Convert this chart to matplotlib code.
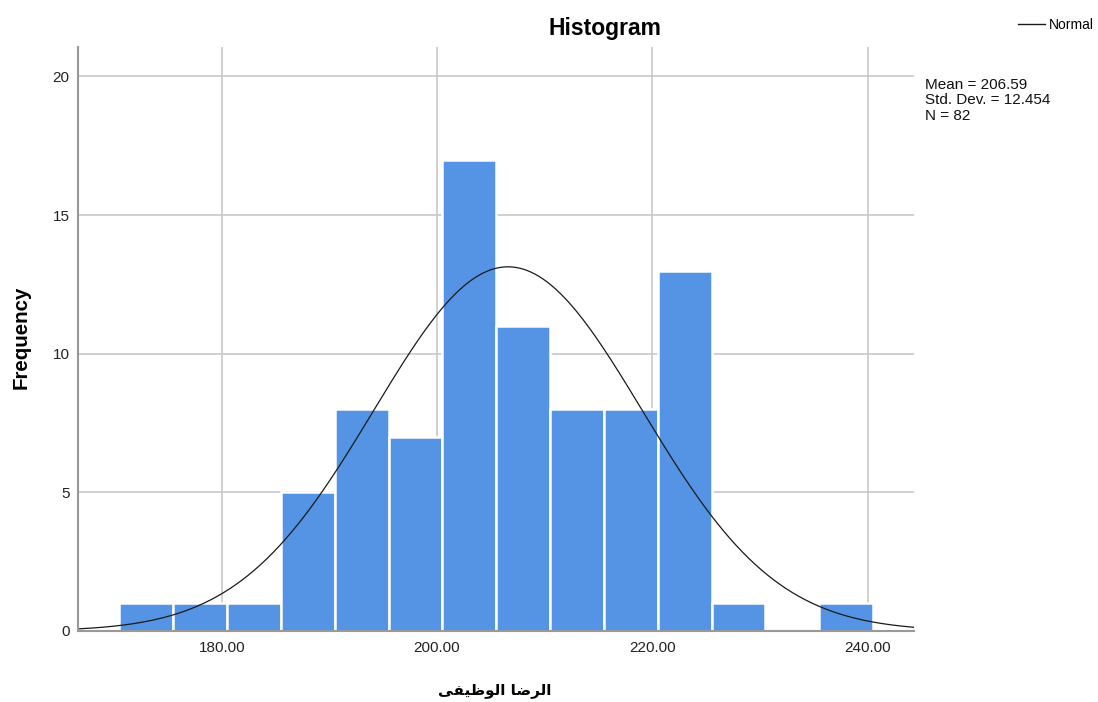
import numpy as np
import matplotlib
matplotlib.use("Agg")
import matplotlib.pyplot as plt
from matplotlib.lines import Line2D

# ---- data ----
bin_edges = [170.5, 175.5, 180.5, 185.5, 190.5, 195.5, 200.5, 205.5,
             210.5, 215.5, 220.5, 225.5, 230.5, 235.5, 240.5]
counts = [1, 1, 1, 5, 8, 7, 17, 11, 8, 8, 13, 1, 0, 1]
mean_val = 206.59
std_val = 12.454
n_val = 82
x_ticks = [180, 200, 220, 240]
x_tick_labels = ["180.00", "200.00", "220.00", "240.00"]
y_ticks = [0, 5, 10, 15, 20]
title_text = "Histogram"
y_label = "Frequency"
x_label = "الرضا الوظيفى"
legend_label = "Normal"

# ---- minimal Arabic shaping (presentation forms + visual order) ----
_forms = {  # isolated, final, initial, medial
    'ا': ('\uFE8D', '\uFE8E', None, None),
    'ل': ('\uFEDD', '\uFEDE', '\uFEDF', '\uFEE0'),
    'ر': ('\uFEAD', '\uFEAE', None, None),
    'ض': ('\uFEBD', '\uFEBE', '\uFEBF', '\uFEC0'),
    'و': ('\uFEED', '\uFEEE', None, None),
    'ظ': ('\uFEC5', '\uFEC6', '\uFEC7', '\uFEC8'),
    'ي': ('\uFEF1', '\uFEF2', '\uFEF3', '\uFEF4'),
    'ف': ('\uFED1', '\uFED2', '\uFED3', '\uFED4'),
    'ى': ('\uFEEF', '\uFEF0', None, None),
}


def shape_arabic(s):
    out = []
    for i, ch in enumerate(s):
        if ch not in _forms:
            out.append(ch)
            continue
        prev = s[i - 1] if i > 0 else None
        nxt = s[i + 1] if i + 1 < len(s) else None
        jp = prev in _forms and _forms[prev][2] is not None
        jn = _forms[ch][2] is not None and nxt in _forms
        iso, fin, ini, med = _forms[ch]
        if jp and jn:
            out.append(med)
        elif jp:
            out.append(fin)
        elif jn:
            out.append(ini)
        else:
            out.append(iso)
    return ''.join(out)[::-1]


W, H = 1098, 702
fig = plt.figure(figsize=(W / 100, H / 100), dpi=100)
ax = fig.add_axes([78 / W, 1 - 631 / H, (914 - 78) / W, (631 - 47) / H])

bar_color = '#5594e4'
lefts = bin_edges[:-1]
widths = np.diff(bin_edges)
ax.bar(lefts, counts, width=widths, align='edge', color=bar_color,
       edgecolor='white', linewidth=1.8, zorder=2)

xlim = (166.65, 244.3)
ax.set_xlim(*xlim)
ax.set_ylim(0, 21.06)

xs = np.linspace(xlim[0], xlim[1], 400)
bw = bin_edges[1] - bin_edges[0]
ys = n_val * bw / (std_val * np.sqrt(2 * np.pi)) * np.exp(-0.5 * ((xs - mean_val) / std_val) ** 2)
ax.plot(xs, ys, color='#1a1a1a', linewidth=0.9, zorder=3)

ax.set_xticks(x_ticks)
ax.set_xticklabels(x_tick_labels)
ax.set_yticks(y_ticks)
ax.tick_params(length=0, labelsize=11, colors='#222222')
ax.tick_params(axis='x', pad=7)
ax.tick_params(axis='y', pad=6)
for lab in ax.get_xticklabels() + ax.get_yticklabels():
    lab.set_family('Liberation Sans')

ax.grid(True, color='#c8c8c8', linewidth=1.2)
ax.set_axisbelow(True)
for s in ['top', 'right']:
    ax.spines[s].set_visible(False)
for s in ['left', 'bottom']:
    ax.spines[s].set_color('#999999')
    ax.spines[s].set_linewidth(1.5)
    ax.spines[s].set_zorder(4)

fig.text(604.5 / W, 1 - 28 / H, title_text, ha='center', va='center',
         fontsize=16.5, fontweight='bold', family='Liberation Sans')
fig.text(21 / W, 1 - 337 / H, y_label, ha='center', va='center', rotation=90,
         fontsize=14.8, fontweight='bold', family='Liberation Sans')
fig.text(495 / W, 1 - 690 / H, shape_arabic(x_label), ha='center', va='center',
         fontsize=11, fontweight='bold', family=['DejaVu Sans'])

fig.text(925 / W, 1 - 78 / H,
         f"Mean = {mean_val:.2f}\nStd. Dev. = {std_val:.3f}\nN = {n_val}",
         ha='left', va='top', fontsize=11, linespacing=1.12,
         family='Liberation Sans', color='#111111')

handle = Line2D([], [], color='#1a1a1a', linewidth=1.0)
fig.legend([handle], [legend_label], loc='center left',
           bbox_to_anchor=(1018 / W, 1 - 25 / H), frameon=False,
           handlelength=1.95, handletextpad=0.25, borderpad=0, borderaxespad=0,
           prop={'family': 'Liberation Sans', 'size': 10})

fig.savefig('out.png', dpi=100)
